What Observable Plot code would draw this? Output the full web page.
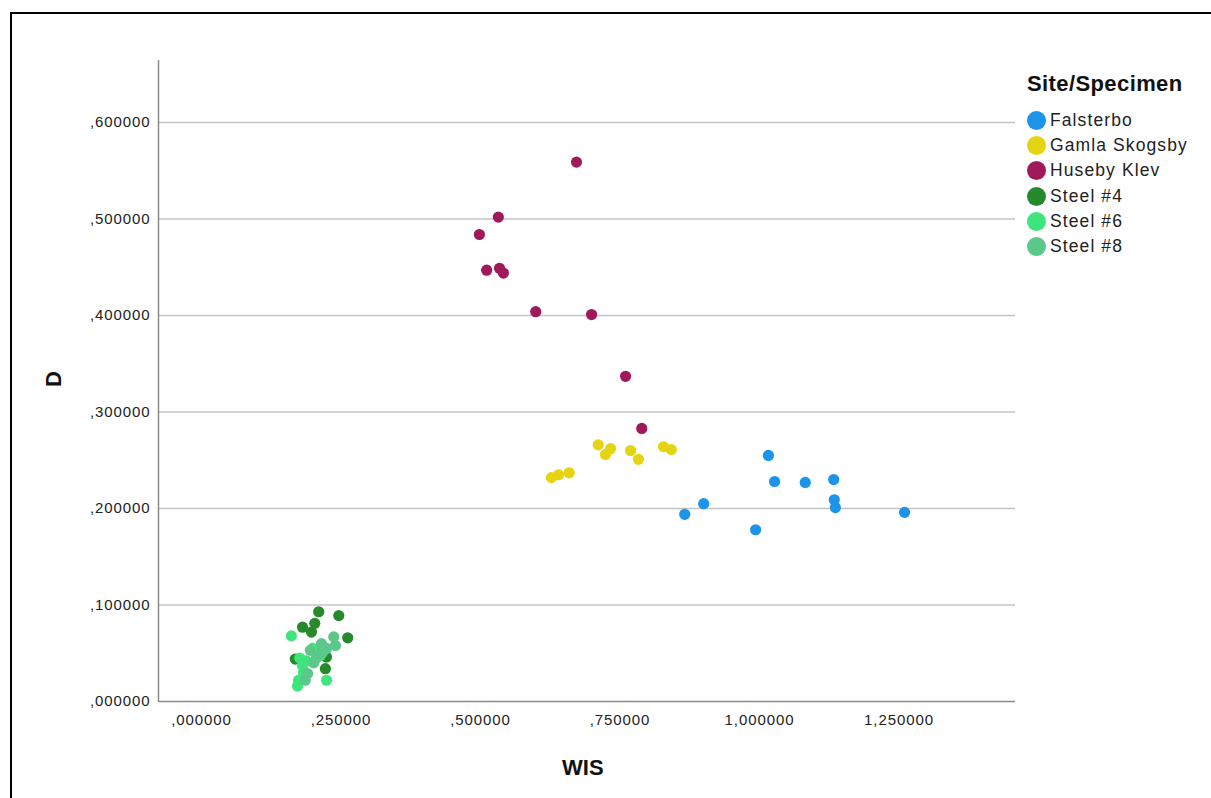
<!DOCTYPE html>
<html><head><meta charset="utf-8">
<script src="https://cdn.jsdelivr.net/npm/d3@7"></script>
<script src="https://cdn.jsdelivr.net/npm/@observablehq/plot@0.6"></script>
<style>
body{margin:0;background:#fff;font-family:"Liberation Sans",Arial,sans-serif;}
#frame{position:absolute;left:10px;top:12px;width:1215px;height:800px;border:2px solid #000;box-sizing:border-box;}
#chart{position:absolute;left:0;top:0;}
#chart svg text{letter-spacing:0.9px;}
.ttl{position:absolute;font-weight:bold;color:#111;font-size:22px;line-height:1;}
#legend{position:absolute;left:1027px;top:71px;}
#legend .lt{font-weight:bold;font-size:22px;color:#111;margin-bottom:11px;letter-spacing:0.4px;line-height:26px;}
#legend .row{display:flex;align-items:center;height:25.2px;font-size:17.5px;color:#222;letter-spacing:1.1px;}
#legend .sw{width:19px;height:19px;border-radius:50%;margin-right:4px;}
</style></head>
<body>
<div id="frame"></div>
<div id="chart"></div>
<div class="ttl" style="left:46px;top:368px;transform:rotate(-90deg);">D</div>
<div class="ttl" style="left:562px;top:757px;">WIS</div>
<div id="legend"></div>
<script>
const groups = ["Falsterbo","Gamla Skogsby","Huseby Klev","Steel #4","Steel #6","Steel #8"];
const colors = ["#1b94e9","#e5d411","#9f1a5a","#268a2c","#3ee57c","#5cc78b"];

const falsterboWIS = [0.866,0.900,0.993,1.016,1.027,1.082,1.133,1.134,1.136,1.260];
const falsterboD   = [0.194,0.205,0.178,0.255,0.228,0.227,0.230,0.209,0.201,0.196];
const gamlaWIS = [0.627,0.640,0.659,0.711,0.724,0.733,0.769,0.783,0.828,0.842];
const gamlaD   = [0.232,0.235,0.237,0.266,0.256,0.262,0.260,0.251,0.264,0.261];
const husebyWIS = [0.672,0.532,0.498,0.511,0.534,0.541,0.599,0.699,0.760,0.789];
const husebyD   = [0.559,0.502,0.484,0.447,0.449,0.444,0.404,0.401,0.337,0.283];
const steel4WIS = [0.210,0.246,0.181,0.203,0.197,0.262,0.168,0.224,0.222,0.206];
const steel4D   = [0.093,0.089,0.077,0.081,0.072,0.066,0.044,0.046,0.034,0.051];
const steel6WIS = [0.161,0.176,0.183,0.174,0.172,0.224,0.188,0.199,0.213,0.181];
const steel6D   = [0.068,0.045,0.030,0.022,0.016,0.022,0.042,0.055,0.048,0.037];
const steel8WIS = [0.237,0.240,0.215,0.195,0.206,0.217,0.186,0.190,0.201,0.224];
const steel8D   = [0.067,0.058,0.060,0.053,0.045,0.051,0.022,0.029,0.040,0.055];

const xTicks = [0,0.25,0.5,0.75,1.0,1.25];
const yTicks = [0,0.1,0.2,0.3,0.4,0.5,0.6];

const series = [
  [falsterboWIS,falsterboD],[gamlaWIS,gamlaD],[husebyWIS,husebyD],
  [steel4WIS,steel4D],[steel6WIS,steel6D],[steel8WIS,steel8D]
];
const data = [];
series.forEach(([xs,ys],gi)=>xs.forEach((x,i)=>data.push({group:groups[gi],WIS:x,D:ys[i]})));

const fmt = v => {
  const s = v.toFixed(6).replace(".", ",");
  return s.startsWith("0,") ? s.slice(1) : s;
};

const xDomain = [-0.0771, 1.4588];
const yDomain = [0, 0.6643];

const chart = Plot.plot({
  width: 1211, height: 798,
  marginLeft: 158, marginRight: 196, marginTop: 60, marginBottom: 97,
  style: {fontFamily: "'Liberation Sans', Arial, sans-serif", fontSize: "15px", color: "#222", background: "transparent"},
  x: {domain: xDomain, ticks: xTicks, tickFormat: fmt, tickSize: 0, tickPadding: 13, label: null},
  y: {domain: yDomain, ticks: yTicks, tickFormat: fmt, tickSize: 0, tickPadding: 8, label: null},
  color: {domain: groups, range: colors},
  marks: [
    Plot.ruleY(yTicks.filter(d => d > 0), {stroke: "#c4c4c4", strokeWidth: 1.5, strokeOpacity: 1}),
    Plot.ruleX([xDomain[0]], {stroke: "#8a8a8a", strokeWidth: 1.5}),
    Plot.ruleY([0], {stroke: "#8a8a8a", strokeWidth: 1.5}),
    Plot.dot(data, {x: "WIS", y: "D", fill: "group", r: 5.6, stroke: null}),
    Plot.axisX({ticks: xTicks, tickFormat: fmt, tickSize: 0, tickPadding: 13, label: null, fill: "#222"}),
    Plot.axisY({ticks: yTicks, tickFormat: fmt, tickSize: 0, tickPadding: 8, label: null, fill: "#222"})
  ]
});
document.getElementById("chart").appendChild(chart);

const lg = document.getElementById("legend");
lg.innerHTML = '<div class="lt">Site/Specimen</div>' + groups.map((g,i)=>
  `<div class="row"><div class="sw" style="background:${colors[i]}"></div>${g}</div>`).join("");
</script>
</body></html>
